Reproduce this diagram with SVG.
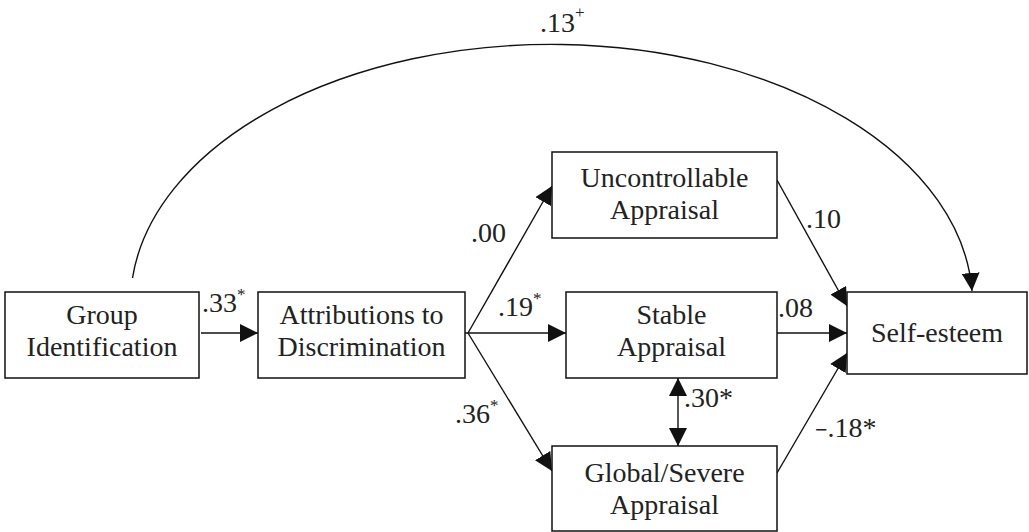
<svg xmlns="http://www.w3.org/2000/svg" width="1029" height="532" viewBox="0 0 1029 532">
<style>
.box{fill:#fff;stroke:#111;stroke-width:1.5}
.t{font-family:"Liberation Serif","DejaVu Serif","Noto Serif",serif;font-size:28px;fill:#222}
.c{text-anchor:middle}
.ln{fill:none;stroke:#111;stroke-width:1.4}
.sup{font-size:17px}
</style>
<defs>
<marker id="ah" viewBox="0 0 18 18" markerUnits="userSpaceOnUse" markerWidth="18" markerHeight="18" refX="18" refY="9" orient="auto">
<path d="M0,0 L18,9 L0,18 z" fill="#111"/>
</marker>
<marker id="ahs" viewBox="0 0 18 18" markerUnits="userSpaceOnUse" markerWidth="18" markerHeight="18" refX="18" refY="9" orient="auto-start-reverse">
<path d="M0,0 L18,9 L0,18 z" fill="#111"/>
</marker>
</defs>
<rect width="1029" height="532" fill="#fff"/>
<g id="connectors">
<path class="ln" d="M132.5,278 A421,259 0 0 1 972,291" marker-end="url(#ah)"/>
<line class="ln" x1="201" y1="333" x2="258" y2="333" marker-end="url(#ah)"/>
<polyline class="ln" points="465,333 468,333 566,333" marker-end="url(#ah)"/>
<line class="ln" x1="468" y1="333" x2="552" y2="186" marker-end="url(#ah)"/>
<line class="ln" x1="468" y1="333" x2="552" y2="471" marker-end="url(#ah)"/>
<line class="ln" x1="777" y1="180" x2="847" y2="306" marker-end="url(#ah)"/>
<line class="ln" x1="777" y1="333" x2="847" y2="333" marker-end="url(#ah)"/>
<line class="ln" x1="777" y1="473" x2="847" y2="353" marker-end="url(#ah)"/>
<line class="ln" x1="678" y1="378" x2="678" y2="446" marker-start="url(#ahs)" marker-end="url(#ah)"/>
<text class="t" x="540" y="32">.13<tspan class="sup" dy="-14">+</tspan></text>
<text class="t" x="202" y="312">.33<tspan class="sup" dy="-12">*</tspan></text>
<text class="t" x="471" y="242">.00</text>
<text class="t" x="498" y="316">.19<tspan class="sup" dy="-12">*</tspan></text>
<text class="t" x="455" y="423">.36<tspan class="sup" dy="-12">*</tspan></text>
<text class="t" x="806" y="228">.10</text>
<text class="t" x="778" y="317">.08</text>
<text class="t" x="684" y="407">.30*</text>
<text class="t" x="815" y="437"><tspan font-weight="bold" font-size="22">−</tspan>.18*</text>
</g>
<g id="group-identification">
<rect class="box" x="5" y="292" width="194" height="86"/>
<text class="t c" x="102" y="324">Group</text>
<text class="t c" x="102" y="356">Identification</text>
</g>
<g id="attributions">
<rect class="box" x="258" y="292" width="207" height="86"/>
<text class="t c" x="361.5" y="324">Attributions to</text>
<text class="t c" x="361.5" y="356">Discrimination</text>
</g>
<g id="uncontrollable">
<rect class="box" x="552" y="152" width="225" height="86"/>
<text class="t c" x="664.5" y="187">Uncontrollable</text>
<text class="t c" x="664.5" y="219">Appraisal</text>
</g>
<g id="stable">
<rect class="box" x="566" y="292" width="211" height="86"/>
<text class="t c" x="671.5" y="324">Stable</text>
<text class="t c" x="671.5" y="356">Appraisal</text>
</g>
<g id="global-severe">
<rect class="box" x="552" y="446" width="225" height="85"/>
<text class="t c" x="664.5" y="482">Global/Severe</text>
<text class="t c" x="664.5" y="514">Appraisal</text>
</g>
<g id="self-esteem">
<rect class="box" x="847" y="292" width="180" height="82"/>
<text class="t c" x="937" y="342">Self-esteem</text>
</g>
</svg>
